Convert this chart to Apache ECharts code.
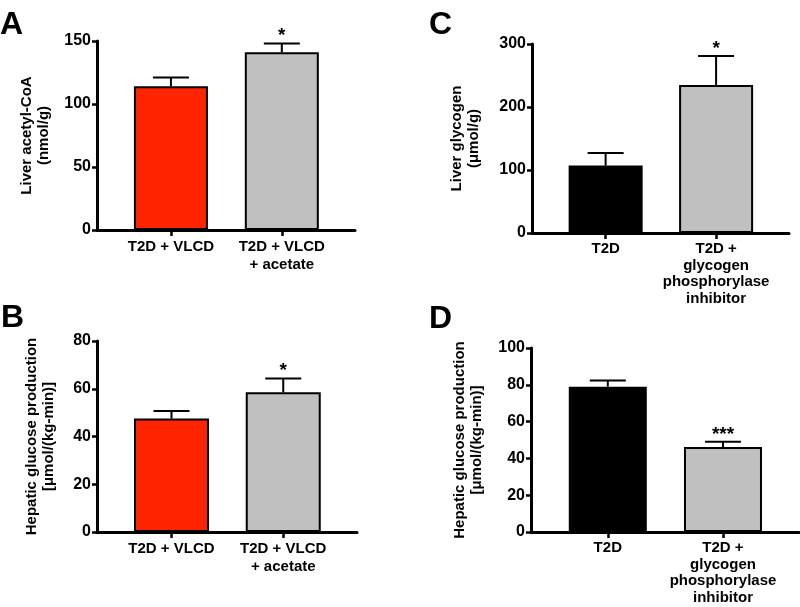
<!DOCTYPE html>
<html>
<head>
<meta charset="utf-8">
<script src="https://cdn.jsdelivr.net/npm/echarts@6/dist/echarts.min.js"></script>
<style>
html,body{margin:0;padding:0;background:#fff;}
#chart{width:800px;height:607px;}
</style>
</head>
<body>
<div id="chart"></div>
<script>
// ---- data ----
const catsAB = ['T2D + VLCD', 'T2D + VLCD\n+ acetate'];
const catsCD = ['T2D', 'T2D +\nglycogen\nphosphorylase\ninhibitor'];

const meanA = [114, 141];
const semA = [7, 7];
const sigA = ['', '*'];

const meanB = [47.5, 58.5];
const semB = [3.2, 5.8];
const sigB = ['', '*'];

const meanC = [107, 235];
const semC = [20, 46];
const sigC = ['', '*'];

const meanD = [79, 46.2];
const semD = [3.3, 2.8];
const sigD = ['', '***'];

const ticksA = [0, 50, 100, 150];
const ticksB = [0, 20, 40, 60, 80];
const ticksC = [0, 100, 200, 300];
const ticksD = [0, 20, 40, 60, 80, 100];

const colorsAB = ['#ff2400', '#c0c0c0'];
const colorsCD = ['#000000', '#c0c0c0'];

const nameA = 'Liver acetyl-CoA\n(nmol/g)';
const nameB = 'Hepatic glucose production\n[\u03bcmol/(kg-min)]';
const nameC = 'Liver glycogen\n(\u03bcmol/g)';
const nameD = 'Hepatic glucose production\n[\u03bcmol/(kg-min)]';

// ---- layout ----
const FONT = 'Liberation Sans, Arial, Helvetica, sans-serif';
const panels = [
  {letter:'A', cats:catsAB, mean:meanA, sem:semA, sig:sigA, colors:colorsAB, ticks:ticksA, name:nameA,
   grid:{left:97, top:41, width:258, height:189}, barW:74, nameGap:45, lh:18, letterPos:[0,25]},
  {letter:'B', cats:catsAB, mean:meanB, sem:semB, sig:sigB, colors:colorsAB, ticks:ticksB, name:nameB,
   grid:{left:97, top:341, width:260, height:191}, barW:75, nameGap:40, lh:18, letterPos:[1,318]},
  {letter:'C', cats:catsCD, mean:meanC, sem:semC, sig:sigC, colors:colorsCD, ticks:ticksC, name:nameC,
   grid:{left:532, top:44, width:257, height:189}, barW:74, nameGap:50, lh:16.5, letterPos:[429,25]},
  {letter:'D', cats:catsCD, mean:meanD, sem:semD, sig:sigD, colors:colorsCD, ticks:ticksD, name:nameD,
   grid:{left:531, top:348, width:268, height:184}, barW:78, nameGap:46, lh:16.5, letterPos:[429,319]}
];

const grids = [], xAxes = [], yAxes = [], series = [], graphics = [];
panels.forEach((p, i) => {
  grids.push(Object.assign({containLabel:false}, p.grid));
  const xs = p.cats.map((c, k) => k + 1);
  xAxes.push({
    type:'value', gridIndex:i, min:1/3, max:2.66,
    splitLine:{show:false},
    axisLine:{show:true, onZero:false, lineStyle:{color:'#000', width:3}},
    axisTick:{show:true, customValues:xs, length:6, lineStyle:{color:'#000', width:2.5}},
    axisLabel:{show:true, customValues:xs, margin:8, color:'#000', fontFamily:FONT, fontWeight:'bold',
      fontSize:15, lineHeight:p.lh, formatter:(v) => p.cats[Math.round(v) - 1] || ''}
  });
  const tk = p.ticks;
  yAxes.push({
    type:'value', gridIndex:i, min:tk[0], max:tk[tk.length-1], interval:tk[1]-tk[0],
    splitLine:{show:false},
    axisLine:{show:true, lineStyle:{color:'#000', width:3}},
    axisTick:{show:true, length:5, lineStyle:{color:'#000', width:2.5}},
    axisLabel:{margin:6, color:'#000', fontFamily:FONT, fontWeight:'bold', fontSize:16},
    name:p.name, nameLocation:'middle', nameGap:p.nameGap, nameRotate:90,
    nameTextStyle:{color:'#000', fontFamily:FONT, fontWeight:'bold', fontSize:15, lineHeight:17, align:'center'}
  });
  series.push({
    type:'bar', xAxisIndex:i, yAxisIndex:i, barWidth:p.barW,
    data:p.mean.map((m, k) => ({value:[k + 1, m], itemStyle:{color:p.colors[k]}})),
    itemStyle:{borderColor:'#000', borderWidth:2},
    silent:true, animation:false
  });
  series.push({
    type:'custom', xAxisIndex:i, yAxisIndex:i, z:5, silent:true, animation:false,
    data:p.mean.map((m, k) => [k + 1, m, p.sem[k], k]),
    renderItem:(params, api) => {
      const x = api.value(0), m = api.value(1), s = api.value(2), k = api.value(3);
      const p0 = api.coord([x, m]);
      const p1 = api.coord([x, m + s]);
      const half = 18;
      const children = [
        {type:'line', shape:{x1:p0[0], y1:p0[1], x2:p1[0], y2:p1[1]}, style:{stroke:'#000', lineWidth:2}},
        {type:'line', shape:{x1:p1[0]-half, y1:p1[1], x2:p1[0]+half, y2:p1[1]}, style:{stroke:'#000', lineWidth:2}}
      ];
      const sg = p.sig[k];
      if (sg) {
        children.push({type:'text', x:p1[0], y:p1[1] + 2,
          style:{text:sg, fill:'#000', font:'bold 19px ' + FONT, align:'center', verticalAlign:'bottom'}});
      }
      return {type:'group', children};
    }
  });
  graphics.push({type:'text', left:p.letterPos[0], top:p.letterPos[1] - 16,
    style:{text:p.letter, fill:'#000', font:'bold 32px ' + FONT}});
});

const chart = echarts.init(document.getElementById('chart'), null, {renderer:'canvas'});
chart.setOption({
  animation:false,
  backgroundColor:'#fff',
  grid:grids, xAxis:xAxes, yAxis:yAxes, series:series, graphic:graphics
});
</script>
</body>
</html>
